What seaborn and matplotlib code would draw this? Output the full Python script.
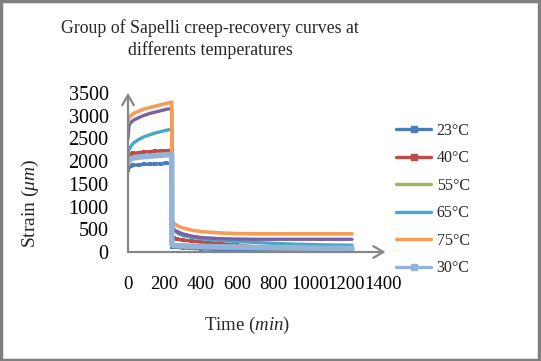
import matplotlib
matplotlib.use("Agg")
import matplotlib.pyplot as plt
from matplotlib.lines import Line2D
from matplotlib.patches import Rectangle
import seaborn as sns
import pandas as pd

sns.set_theme(style="white")
plt.rcParams['font.family'] = ['Liberation Serif', 'DejaVu Serif']
plt.rcParams['mathtext.fontset'] = 'custom'
plt.rcParams['mathtext.it'] = 'Liberation Serif:italic'
plt.rcParams['mathtext.rm'] = 'Liberation Serif'

# time (min): creep phase then recovery phase
time_min = [0, 5, 15, 30, 60, 90, 120, 150, 180, 210, 240,
            241, 250, 270, 300, 350, 400, 500, 600, 700, 800, 900, 1000, 1100, 1230]

strain_23 = [1800, 1880, 1900, 1910, 1920, 1930, 1935, 1940, 1945, 1950, 1955,
             120, 110, 100, 90, 80, 70, 55, 40, 30, 25, 20, 15, 10, 10]
strain_40 = [2080, 2130, 2150, 2170, 2190, 2200, 2210, 2220, 2225, 2230, 2240,
             330, 300, 280, 260, 240, 220, 190, 150, 110, 80, 60, 50, 40, 40]
strain_55 = [2000, 2040, 2060, 2070, 2080, 2090, 2100, 2110, 2115, 2120, 2125,
             140, 130, 120, 110, 100, 95, 90, 85, 80, 75, 70, 70, 65, 65]
strain_65 = [2100, 2250, 2320, 2400, 2480, 2540, 2580, 2620, 2650, 2680, 2700,
             600, 500, 420, 360, 320, 290, 260, 230, 210, 190, 175, 165, 155, 150]
strain_75 = [2850, 2950, 3000, 3050, 3100, 3150, 3180, 3210, 3240, 3270, 3300,
             700, 640, 580, 530, 480, 450, 420, 405, 400, 400, 400, 400, 400, 400]
strain_purple = [2500, 2780, 2850, 2900, 2960, 3010, 3050, 3080, 3110, 3140, 3160,
                 560, 500, 450, 400, 350, 320, 295, 285, 280, 280, 280, 280, 280, 280]
strain_30 = [1950, 2020, 2050, 2070, 2090, 2100, 2110, 2120, 2130, 2140, 2150,
             160, 150, 140, 135, 130, 125, 115, 110, 100, 95, 90, 85, 80, 80]

legend_labels = ["23°C", "40°C", "55°C", "65°C", "75°C", "30°C"]
x_ticks = [0, 200, 400, 600, 800, 1000, 1200, 1400]
y_ticks = [0, 500, 1000, 1500, 2000, 2500, 3000, 3500]

fig = plt.figure(figsize=(5.41, 3.61), dpi=100)
ax = fig.add_axes([128/541, 1 - 252/361, 255/541, 159/361])

series = [
    (strain_23, "#4A7EBB", 2.4, "s"),
    (strain_40, "#BE4B48", 2.4, "s"),
    (strain_55, "#98B954", 2.4, None),
    (strain_65, "#46AAC5", 2.4, None),
    (strain_purple, "#7D60A0", 2.4, None),
    (strain_75, "#F59D56", 2.6, None),
    (strain_30, "#95B3D7", 4.0, "s"),
]
for vals, col, lw, mk in series:
    df = pd.DataFrame({"t": time_min, "s": vals})
    sns.lineplot(data=df, x="t", y="s", ax=ax, color=col, linewidth=lw,
                 marker=mk, markersize=3.5 if mk else 0, markeredgewidth=0,
                 legend=False)

ax.set_xlim(0, 1400)
ax.set_ylim(0, 3500)
ax.set_xticks(x_ticks)
ax.set_yticks(y_ticks)
ax.set_xticklabels([str(v) for v in x_ticks], fontsize=13.5)
ax.set_yticklabels([str(v) for v in y_ticks], fontsize=14.5)
ax.tick_params(axis='x', length=0, pad=17, colors='black')
ax.tick_params(axis='y', length=0, pad=14, colors='black')
for s in ax.spines.values():
    s.set_visible(False)
ax.set_xlabel("")
ax.set_ylabel("")

# axis arrows
axcol = "#868686"
ax.annotate("", xy=(1.01, 0), xycoords='axes fraction', xytext=(0, 0),
            arrowprops=dict(arrowstyle="->,head_length=0.6,head_width=0.35",
                            color=axcol, lw=1.6, shrinkA=0, shrinkB=0))
ax.annotate("", xy=(0, 1.0), xycoords='axes fraction', xytext=(0, 0),
            arrowprops=dict(arrowstyle="->,head_length=0.6,head_width=0.35",
                            color=axcol, lw=1.6, shrinkA=0, shrinkB=0))

fig.text(210/541, 1 - 28/361, "Group of Sapelli creep-recovery curves at",
         ha='center', va='center', fontsize=12.8)
fig.text(210/541, 1 - 50/361, "differents temperatures",
         ha='center', va='center', fontsize=12.8)
fig.text(30/541, 1 - 203/361, r"Strain ($\mathit{\mu m}$)", rotation=90,
         ha='center', va='center', fontsize=14)
fig.text(247/541, 1 - 325/361, r"Time ($\mathit{min}$)",
         ha='center', va='center', fontsize=13.5)

# legend
handles = [
    Line2D([], [], color="#4A7EBB", lw=2.4, marker="s", markersize=4),
    Line2D([], [], color="#BE4B48", lw=2.4, marker="s", markersize=4),
    Line2D([], [], color="#98B954", lw=2.4),
    Line2D([], [], color="#46AAC5", lw=2.4),
    Line2D([], [], color="#F59D56", lw=2.4),
    Line2D([], [], color="#95B3D7", lw=2.4, marker="s", markersize=4),
]
fig.legend(handles, legend_labels, loc='upper left',
           bbox_to_anchor=(388/541, 1 - 115/361), frameon=False,
           fontsize=11.5, handlelength=2.2, handletextpad=0.35,
           labelspacing=0.72, borderpad=0)

fig.patches.append(Rectangle((0.002, 0.003), 0.995, 0.994, transform=fig.transFigure,
                             fill=False, edgecolor="#7F7F7F", linewidth=2.5))
fig.savefig("out.png", dpi=100)
